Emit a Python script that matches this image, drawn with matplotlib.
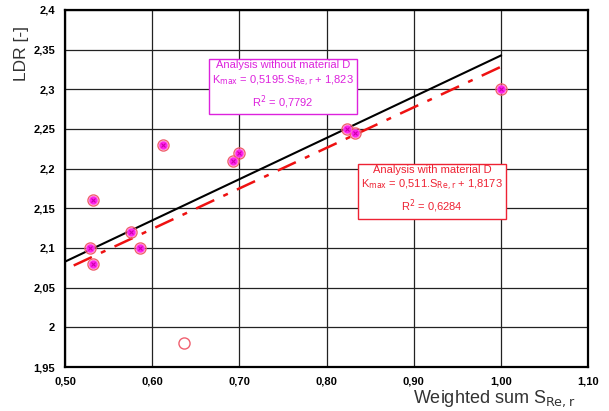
import numpy as np
import matplotlib.pyplot as plt

plt.rcParams['font.family'] = ['Liberation Sans', 'DejaVu Sans']

# measured points (all materials)
s_all = [0.529, 0.532, 0.532, 0.576, 0.586, 0.612, 0.693, 0.700, 0.824, 0.833, 1.000, 0.636]
ldr_all = [2.100, 2.160, 2.080, 2.120, 2.100, 2.230, 2.210, 2.220, 2.250, 2.245, 2.300, 1.980]

# same points without material D
s_noD = s_all[:-1]
ldr_noD = ldr_all[:-1]

# regression coefficients
k_noD, q_noD, r2_noD = 0.5195, 1.823, 0.7792
k_D, q_D, r2_D = 0.511, 1.8173, 0.6284
fit_range_noD = [0.50, 1.00]
fit_range_D = [0.51, 1.00]

xticks = [0.50, 0.60, 0.70, 0.80, 0.90, 1.00, 1.10]
xticklabels = ['0,50', '0,60', '0,70', '0,80', '0,90', '1,00', '1,10']
yticks = [1.95, 2.0, 2.05, 2.1, 2.15, 2.2, 2.25, 2.3, 2.35, 2.4]
yticklabels = ['1,95', '2', '2,05', '2,1', '2,15', '2,2', '2,25', '2,3', '2,35', '2,4']


def comma(v):
    return str(v).replace('.', ',')


fig = plt.figure(figsize=(6.09, 4.11), dpi=100)
ax = fig.add_axes([0.1067, 0.107, 0.859, 0.869])

ax.set_xlim(0.5, 1.1)
ax.set_ylim(1.95, 2.4)
ax.set_xticks(xticks)
ax.set_xticklabels(xticklabels, fontsize=8, fontweight='bold')
ax.set_yticks(yticks)
ax.set_yticklabels(yticklabels, fontsize=8, fontweight='bold')
ax.tick_params(length=0, pad=7)
ax.grid(True, color='#222222', lw=0.9)
ax.set_axisbelow(True)
for sp in ax.spines.values():
    sp.set_linewidth(1.6)

# fitted lines
xf = np.array(fit_range_noD)
ax.plot(xf, k_noD * xf + q_noD, color='black', lw=1.5, zorder=3)
xf = np.array(fit_range_D)
ax.plot(xf, k_D * xf + q_D, color='#ee1111', lw=1.8, dashes=(8, 4, 2, 4), zorder=3)

# points
ax.plot(s_all, ldr_all, 'o', ms=8, mfc='none', mec='#f06070', mew=1.0, zorder=4)
ax.plot(s_noD, ldr_noD, 'o', ms=6, mfc='#ff22ee', mec='#ff55dd', mew=0.5, zorder=5)
ax.plot(s_noD, ldr_noD, 'x', ms=3.5, color='#cc00aa', mew=0.8, zorder=6)

# equation boxes
txt_noD = ('Analysis without material D\n'
           r'K$_{\mathrm{max}}$ = ' + comma(k_noD) + r'.S$_{\mathrm{Re,r}}$ + ' + comma(q_noD) + '\n'
           r'R$^{2}$ = ' + comma(r2_noD))
ax.text(0.750, 2.305, txt_noD,
        color='#dd22dd', fontsize=8, ha='center', va='center', linespacing=1.35,
        bbox=dict(boxstyle='square,pad=0.3', fc='white', ec='#dd22dd', lw=1), zorder=7)
txt_D = ('Analysis with material D\n'
         r'K$_{\mathrm{max}}$ = ' + comma(k_D) + r'.S$_{\mathrm{Re,r}}$ + ' + comma(q_D) + '\n'
         r'R$^{2}$ = ' + comma(r2_D))
ax.text(0.921, 2.173, txt_D,
        color='#ee2233', fontsize=8, ha='center', va='center', linespacing=1.35,
        bbox=dict(boxstyle='square,pad=0.3', fc='white', ec='#ee2233', lw=1), zorder=7)

fig.text(0.036, 0.87, 'LDR [-]', rotation=90, fontsize=12.5, ha='center', va='center', color='#333333')
fig.text(0.945, 0.03, r'Weighted sum S$_{\mathrm{Re,r}}$', fontsize=13, ha='right', va='center', color='#333333')

fig.savefig('out.png', dpi=100)
